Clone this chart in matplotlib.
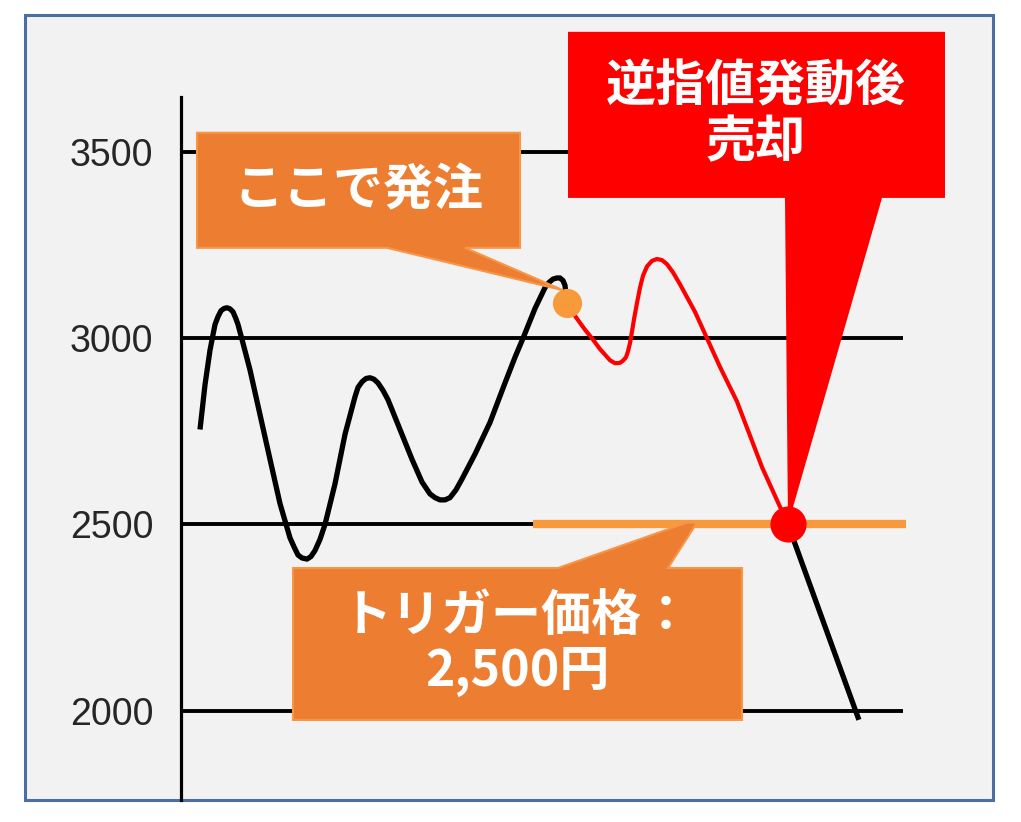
import matplotlib.pyplot as plt
from matplotlib.patches import Polygon, Rectangle

plt.rcParams['font.family'] = ['Noto Sans CJK JP', 'DejaVu Sans']

# price levels shown on the y axis
ticks = [2000, 2500, 3000, 3500]
tick_labels = ['2000', '2500', '3000', '3500']

# price path before the order (black)
x_before = [19, 24, 29, 34, 37, 40, 43, 46, 49, 52, 55, 57, 61, 69, 79, 89, 99,
            109, 113, 117, 121, 126, 130, 134, 139, 144, 154, 164, 174, 177,
            181, 185, 189, 193, 197, 202, 207, 219, 231, 241, 249, 254, 259,
            264, 269, 275, 281, 294, 309, 324, 334, 342, 354, 364, 368, 372,
            376, 379, 382, 384, 386]
y_before = [2755, 2875, 2968, 3037, 3058, 3074, 3080, 3082, 3079, 3071, 3052,
            3037, 2997, 2915, 2795, 2675, 2556, 2464, 2440, 2418, 2410, 2407,
            2414, 2430, 2460, 2500, 2609, 2742, 2843, 2868, 2883, 2892, 2894,
            2890, 2880, 2860, 2835, 2755, 2675, 2614, 2582, 2572, 2566, 2566,
            2572, 2593, 2622, 2689, 2774, 2880, 2949, 3000, 3080, 3136, 3150,
            3159, 3162, 3162, 3155, 3142, 3094]

# price path after the order until the stop triggers (red)
x_after = [386, 394, 404, 411, 419, 429, 434, 439, 442, 445, 447, 449, 451,
           453, 456, 459, 462, 466, 471, 476, 481, 486, 492, 499, 514, 526,
           539, 556, 581, 607]
y_after = [3094, 3060, 3023, 3000, 2971, 2941, 2933, 2934, 2940, 2949, 2965,
           2987, 3018, 3051, 3095, 3136, 3168, 3193, 3208, 3213, 3210, 3199,
           3177, 3145, 3071, 3000, 2923, 2830, 2654, 2500]

# after the sale (black)
x_sold = [607, 677]
y_sold = [2500, 1982]

trigger = 2500

fig = plt.figure(figsize=(10.21, 8.22), dpi=100)
fig.patch.set_facecolor('white')
fig.patches.append(Rectangle((25 / 1021, 1 - 800 / 822), 968 / 1021, 785 / 822,
                             transform=fig.transFigure, facecolor='#F2F2F2',
                             edgecolor='#4A6FA0', linewidth=2.2, zorder=-10))

ax = fig.add_axes([181 / 1021, 22 / 822, 812 / 1021, 703 / 822])
ax.set_facecolor('none')
ax.set_xlim(0, 812)
ax.set_ylim(1760, 3648)
for s in ['top', 'right', 'bottom']:
    ax.spines[s].set_visible(False)
ax.spines['left'].set_linewidth(2.3)
ax.spines['left'].set_color('black')
ax.set_xticks([])
ax.set_yticks(ticks)
ax.set_yticklabels(tick_labels, family='Liberation Sans', fontsize=27, color='#262626')
ax.tick_params(axis='y', length=0, pad=20)

ax.hlines(ticks, 0, 722, colors='black', linewidth=2.8, zorder=1)
ax.hlines(trigger, 352, 725, colors='#F79A3B', linewidth=6, zorder=2)

ax.plot(x_before, y_before, color='black', linewidth=3.8, solid_joinstyle='round',
        solid_capstyle='butt', zorder=3)
ax.plot(x_after, y_after, color='#FF0000', linewidth=3.0, solid_joinstyle='round', zorder=3)
ax.plot(x_sold, y_sold, color='black', linewidth=3.8, zorder=3)

order_x, order_y = x_before[-1], y_before[-1]
sell_x, sell_y = x_after[-1], y_after[-1]

# callout: order placed here
ax.add_patch(Polygon([(16, 3552), (339, 3552), (339, 3243), (284, 3243),
                      (order_x - 4, order_y + 35), (206, 3243), (16, 3243)],
                     closed=True, facecolor='#ED7D31', edgecolor='#F79646',
                     linewidth=1.5, zorder=5, clip_on=False))
ax.text(177, 3397, 'ここで発注', color='white', fontsize=36, fontweight='bold',
        ha='center', va='center', zorder=6)
ax.plot(order_x, order_y, 'o', color='#F79A3B', markersize=20, zorder=6)

# callout: sold after the stop triggered
ax.add_patch(Polygon([(387, 3823), (764, 3823), (764, 3377), (701, 3377),
                      (sell_x, sell_y), (604, 3377), (387, 3377)],
                     closed=True, facecolor='#FF0000', edgecolor='none',
                     zorder=5, clip_on=False))
ax.text(575, 3600, '逆指値発動後\n売却', color='white', fontsize=36,
        fontweight='bold', ha='center', va='center', linespacing=1.1,
        zorder=6)
ax.plot(sell_x, sell_y, 'o', color='#FF0000', markersize=25, zorder=6)

# callout: trigger price
ax.add_patch(Polygon([(112, 2383), (377, 2383), (506, trigger + 5), (516, trigger + 5),
                      (487, 2383), (561, 2383), (561, 1975), (112, 1975)],
                     closed=True, facecolor='#ED7D31', edgecolor='#F79646',
                     linewidth=1.5, zorder=5))
ax.text(336, 2180, 'トリガー価格：\n2,500円', color='white', fontsize=36,
        fontweight='bold', ha='center', va='center', linespacing=1.1,
        zorder=6)

fig.savefig('out.png', dpi=100)
